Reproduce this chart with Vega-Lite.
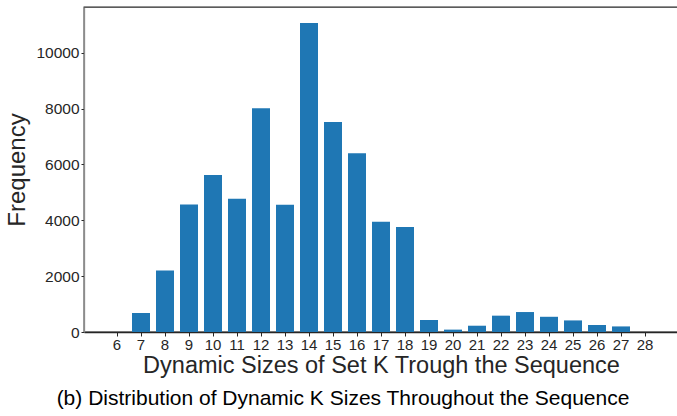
{
  "$schema": "https://vega.github.io/schema/vega-lite/v6.json",
  "width": 594,
  "height": 325,
  "autosize": {"type": "none"},
  "padding": {"left": 84, "top": 7, "right": 0, "bottom": 84},
  "background": "white",
  "config": {
    "font": "Liberation Sans",
    "view": {"stroke": "#262626", "strokeWidth": 1.3}
  },
  "title": {
    "text": "(b) Distribution of Dynamic K Sizes Throughout the Sequence",
    "orient": "bottom",
    "anchor": "middle",
    "fontSize": 21,
    "fontWeight": "normal",
    "color": "#000000",
    "font": "Liberation Sans",
    "dx": -38,
    "offset": 11
  },
  "data": {
    "values": [
      {"k": 6, "count": 0},
      {"k": 7, "count": 680},
      {"k": 8, "count": 2205},
      {"k": 9, "count": 4570},
      {"k": 10, "count": 5625},
      {"k": 11, "count": 4775},
      {"k": 12, "count": 8010},
      {"k": 13, "count": 4560},
      {"k": 14, "count": 11070},
      {"k": 15, "count": 7525},
      {"k": 16, "count": 6400},
      {"k": 17, "count": 3945},
      {"k": 18, "count": 3765},
      {"k": 19, "count": 430},
      {"k": 20, "count": 85},
      {"k": 21, "count": 225},
      {"k": 22, "count": 585},
      {"k": 23, "count": 715},
      {"k": 24, "count": 545},
      {"k": 25, "count": 415},
      {"k": 26, "count": 250},
      {"k": 27, "count": 200},
      {"k": 28, "count": 0}
    ]
  },
  "mark": {"type": "bar", "color": "#1f77b4"},
  "encoding": {
    "x": {
      "field": "k",
      "type": "ordinal",
      "sort": "ascending",
      "scale": {"paddingInner": 0.25, "paddingOuter": 1.18},
      "axis": {
        "title": "Dynamic Sizes of Set K Trough the Sequence",
        "titleFontSize": 23.5,
        "titleFontWeight": "normal",
        "titleColor": "#262626",
        "titlePadding": 1,
        "labelAngle": 0,
        "labelFontSize": 15,
        "labelColor": "#262626",
        "labelPadding": 1,
        "tickSize": 4,
        "tickColor": "#262626",
        "domainColor": "#262626",
        "domainWidth": 1.3,
        "grid": false
      }
    },
    "y": {
      "field": "count",
      "type": "quantitative",
      "scale": {"domain": [0, 11640], "nice": false},
      "axis": {
        "title": "Frequency",
        "titleFontSize": 24,
        "titleFontWeight": "normal",
        "titleColor": "#262626",
        "titlePadding": 6,
        "values": [0, 2000, 4000, 6000, 8000, 10000],
        "format": "d",
        "labelFontSize": 15.5,
        "labelColor": "#262626",
        "labelPadding": 2,
        "tickSize": 3,
        "tickColor": "#262626",
        "domainColor": "#8c8c8c",
        "domainWidth": 1.3,
        "grid": false
      }
    }
  }
}
